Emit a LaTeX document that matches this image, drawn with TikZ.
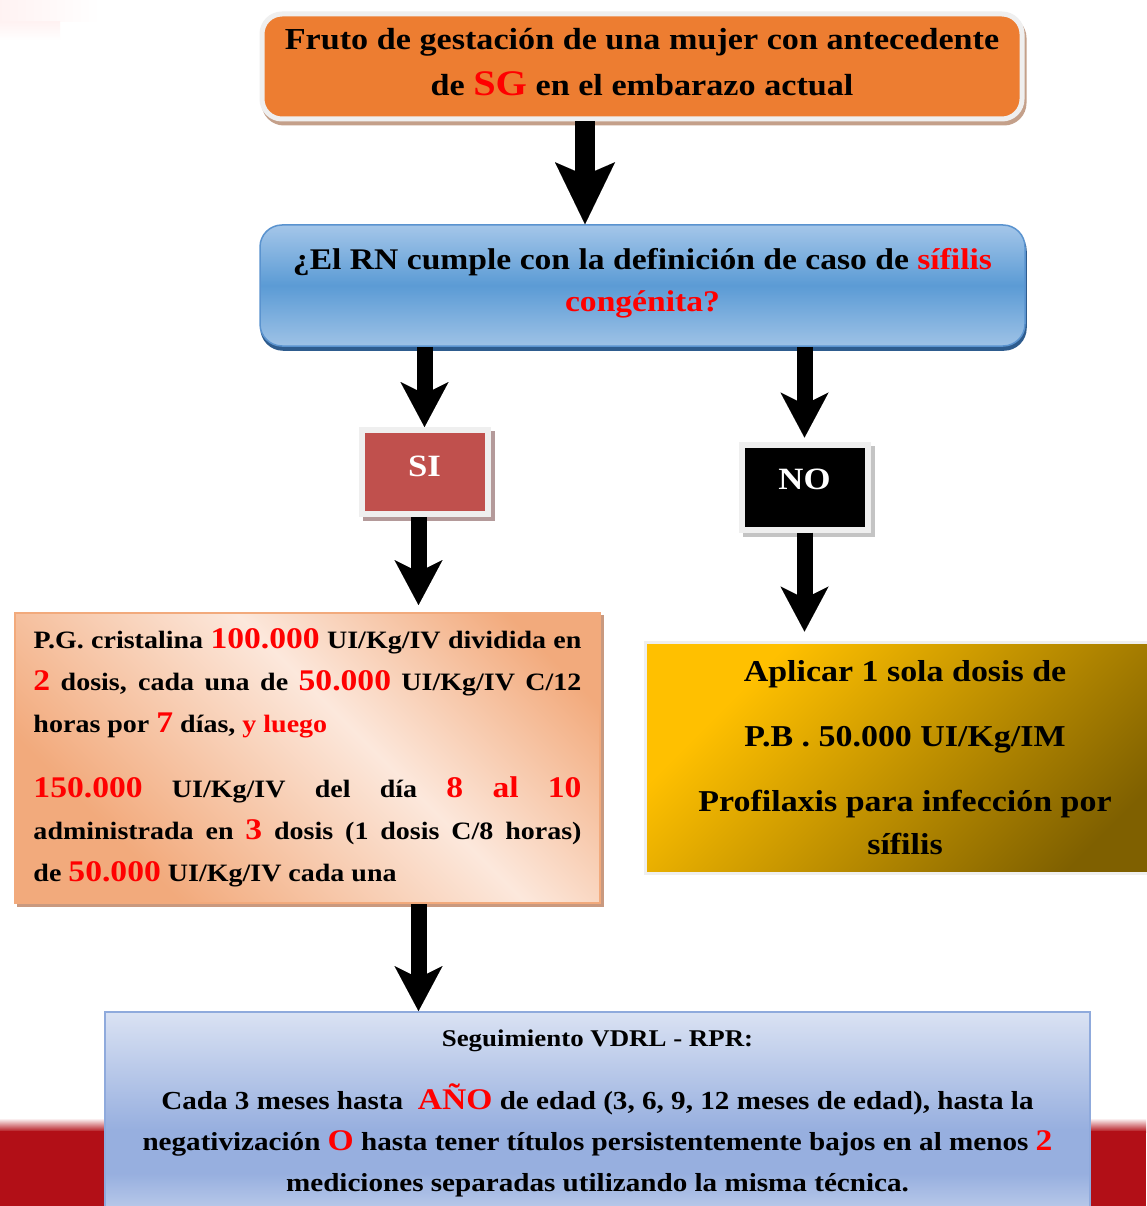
\documentclass[tikz,border=0pt]{standalone}
\usepackage{fontspec}
\setmainfont{Liberation Serif}[FakeStretch=1.12]
\usetikzlibrary{arrows.meta,shadows,calc}
\setlength\parindent{0pt}
\definecolor{orng}{HTML}{ED7D31}
\definecolor{frameg}{HTML}{EFEFEF}
\definecolor{brsh}{HTML}{C4A08A}
\definecolor{qtop}{HTML}{A4C6E9}
\definecolor{qmid}{HTML}{5B9BD5}
\definecolor{qbot}{HTML}{9EC2E6}
\definecolor{qborder}{HTML}{5A93CF}
\definecolor{qshadow}{HTML}{2E5C8E}
\definecolor{sired}{HTML}{C0504D}
\definecolor{sishadow}{HTML}{B49A9A}
\definecolor{noshadow}{HTML}{C4C4C4}
\definecolor{peachO}{HTML}{F2AA7C}
\definecolor{peachL}{HTML}{FCE8DC}
\definecolor{peachsh}{HTML}{C9997F}
\definecolor{gold1}{HTML}{FFC000}
\definecolor{gold2}{HTML}{7F6000}
\definecolor{fuA}{HTML}{DAE2F3}
\definecolor{fuB}{HTML}{97AFDF}
\definecolor{fuC}{HTML}{CCD8EF}
\definecolor{fuborder}{HTML}{8FAADC}
\definecolor{bandred}{HTML}{B20F17}
\pgfdeclarehorizontalshading{peachshade}{100bp}{color(0bp)=(peachO); color(28bp)=(peachO); color(56bp)=(peachL); color(78bp)=(peachO); color(100bp)=(peachO)}
\pgfdeclarehorizontalshading{goldshade}{100bp}{color(0bp)=(gold1); color(28bp)=(gold1); color(76bp)=(gold2); color(100bp)=(gold2)}
\pgfdeclareverticalshading{fushade}{100bp}{color(0bp)=(fuC); color(25bp)=(fuC); color(38bp)=(fuB); color(48bp)=(fuB); color(75bp)=(fuA); color(100bp)=(fuA)}
\newcommand\redbig[1]{{\fontsize{30}{42}\selectfont\color{red}#1}}
\newcommand\redtxt[1]{{\color{red}#1}}
\begin{document}
\begin{tikzpicture}[x=1pt,y=-1pt,
  bigA/.style={line width=20pt,-{Stealth[length=62pt,width=60pt,inset=13pt,line width=0.01pt]}},
  bigB/.style={line width=16pt,-{Stealth[length=45pt,width=48pt,inset=12pt,line width=0.01pt]}},
  topbox/.style={rounded corners=20pt,fill=orng,draw=frameg,line width=5pt,minimum width=760pt,minimum height=105pt,align=center,
    font=\bfseries\fontsize{30.5}{46}\selectfont,
    drop shadow={shadow xshift=2pt,shadow yshift=-4pt,fill=brsh,draw=brsh,line width=5pt,opacity=1}},
  qbox/.style={rounded corners=22pt,top color=qtop,bottom color=qbot,middle color=qmid,draw=qborder,line width=1.5pt,
    minimum width=765pt,minimum height=121pt,align=center,font=\bfseries\fontsize{30}{42}\selectfont,
    drop shadow={shadow xshift=1pt,shadow yshift=-4pt,fill=qshadow,draw=qshadow,line width=1.5pt,opacity=1}},
  answer/.style={draw=frameg,line width=6pt,minimum width=126pt,minimum height=84pt,text=white,
    font=\bfseries\fontsize{31}{36}\selectfont},
  pgbox/.style={shading=peachshade,shading angle=45,draw=peachO,line width=2pt,minimum width=585pt,minimum height=290pt,
    text width=548pt,align=justify,font=\bfseries\fontsize{25}{42}\selectfont,
    drop shadow={shadow xshift=3pt,shadow yshift=-3pt,fill=peachsh,draw=peachsh,line width=2pt,opacity=1}},
  goldbox/.style={shading=goldshade,shading angle=-45,draw=frameg,line width=3pt,minimum width=520pt,minimum height=231pt,
    align=center,font=\bfseries\fontsize{30.3}{43}\selectfont},
  fubox/.style={shading=fushade,draw=fuborder,line width=2pt,minimum width=985pt,minimum height=218pt},
  futext/.style={align=center,font=\bfseries\fontsize{26}{41}\selectfont}
]
\useasboundingbox (0,0) rectangle (1146,1206);
\fill[white] (0,0) rectangle (1146,1206);
% faint remnant top left
\shade[left color=red!5,right color=white] (0,0) rectangle (100,22);
\shade[top color=red!5,bottom color=white] (0,22) rectangle (60,40);
% red band at the bottom
\shade[top color=white,bottom color=bandred] (0,1118) rectangle (1146,1132);
\fill[bandred] (0,1131) rectangle (1146,1206);

\node[topbox] (top) at (642,66.5) {Fruto de gestación de una mujer con antecedente\\ de {\fontsize{36}{46}\selectfont\color{red}SG} en el embarazo actual\\[-36pt]\mbox{}};

\node[qbox] (q) at (642.5,285.5) {¿El RN cumple con la definición de caso de \redtxt{sífilis}\\ \redtxt{congénita?}\\[-30pt]\mbox{}};

\node[answer,fill=sired,text depth=12pt,
  drop shadow={shadow xshift=4pt,shadow yshift=-4pt,fill=sishadow,draw=sishadow,line width=6pt,opacity=1}]
  (si) at (424.5,472) {SI};
\node[answer,fill=black,minimum height=85pt,text depth=16pt,
  drop shadow={shadow xshift=4pt,shadow yshift=-4pt,fill=noshadow,draw=noshadow,line width=6pt,opacity=1}]
  (no) at (804.5,487) {NO};

\node[pgbox] (pg) at (307.5,758) {P.G. cristalina \redbig{100.000} UI/Kg/IV dividida en\linebreak
\redbig{2} dosis, cada una de \redbig{50.000} UI/Kg/IV C/12\linebreak
horas por \redbig{7} días, \redtxt{y luego}\par\vspace{23pt}
\redbig{150.000} UI/Kg/IV del día \redbig{8} \redbig{al} \redbig{10}\linebreak
administrada en \redbig{3} dosis (1 dosis C/8 horas)\linebreak
de \redbig{50.000} UI/Kg/IV cada una};

\node[goldbox] (gold) at (905,757.5) {Aplicar 1 sola dosis de\\[22pt] P.B . 50.000 UI/Kg/IM\\[22pt] Profilaxis para infección por\\ sífilis};

\node[fubox] (fu) at (597.5,1121) {};
\node[futext,anchor=north] (fut) at ([yshift=-15pt]fu.north) {{\fontsize{24}{41}\selectfont Seguimiento VDRL - RPR:}\\[22pt]
Cada 3 meses hasta\ \ \redbig{AÑO} de edad (3, 6, 9, 12 meses de edad), hasta la\\
negativización \redbig{O} hasta tener títulos persistentemente bajos en al menos \redbig{2}\\
mediciones separadas utilizando la misma técnica.};

\draw[bigA] ([xshift=-57pt]top.south) -- ([xshift=-57.5pt]q.north);
\draw[bigB] (q.south -| si.north) -- (si.north);
\draw[bigB,shorten >=4pt] (q.south -| no.north) -- (no.north);
\draw[bigB,shorten >=7pt] ($(si.south)+(-6,0)$) -- ($(si.south |- pg.north)+(-6,0)$);
\draw[bigB,shorten >=9pt] (no.south) -- (no.south |- gold.north);
\draw[bigB] ($(pg.south -| si.south)+(-6,0)$) -- ($(fu.north -| si.south)+(-6,0)$);
\end{tikzpicture}
\end{document}
